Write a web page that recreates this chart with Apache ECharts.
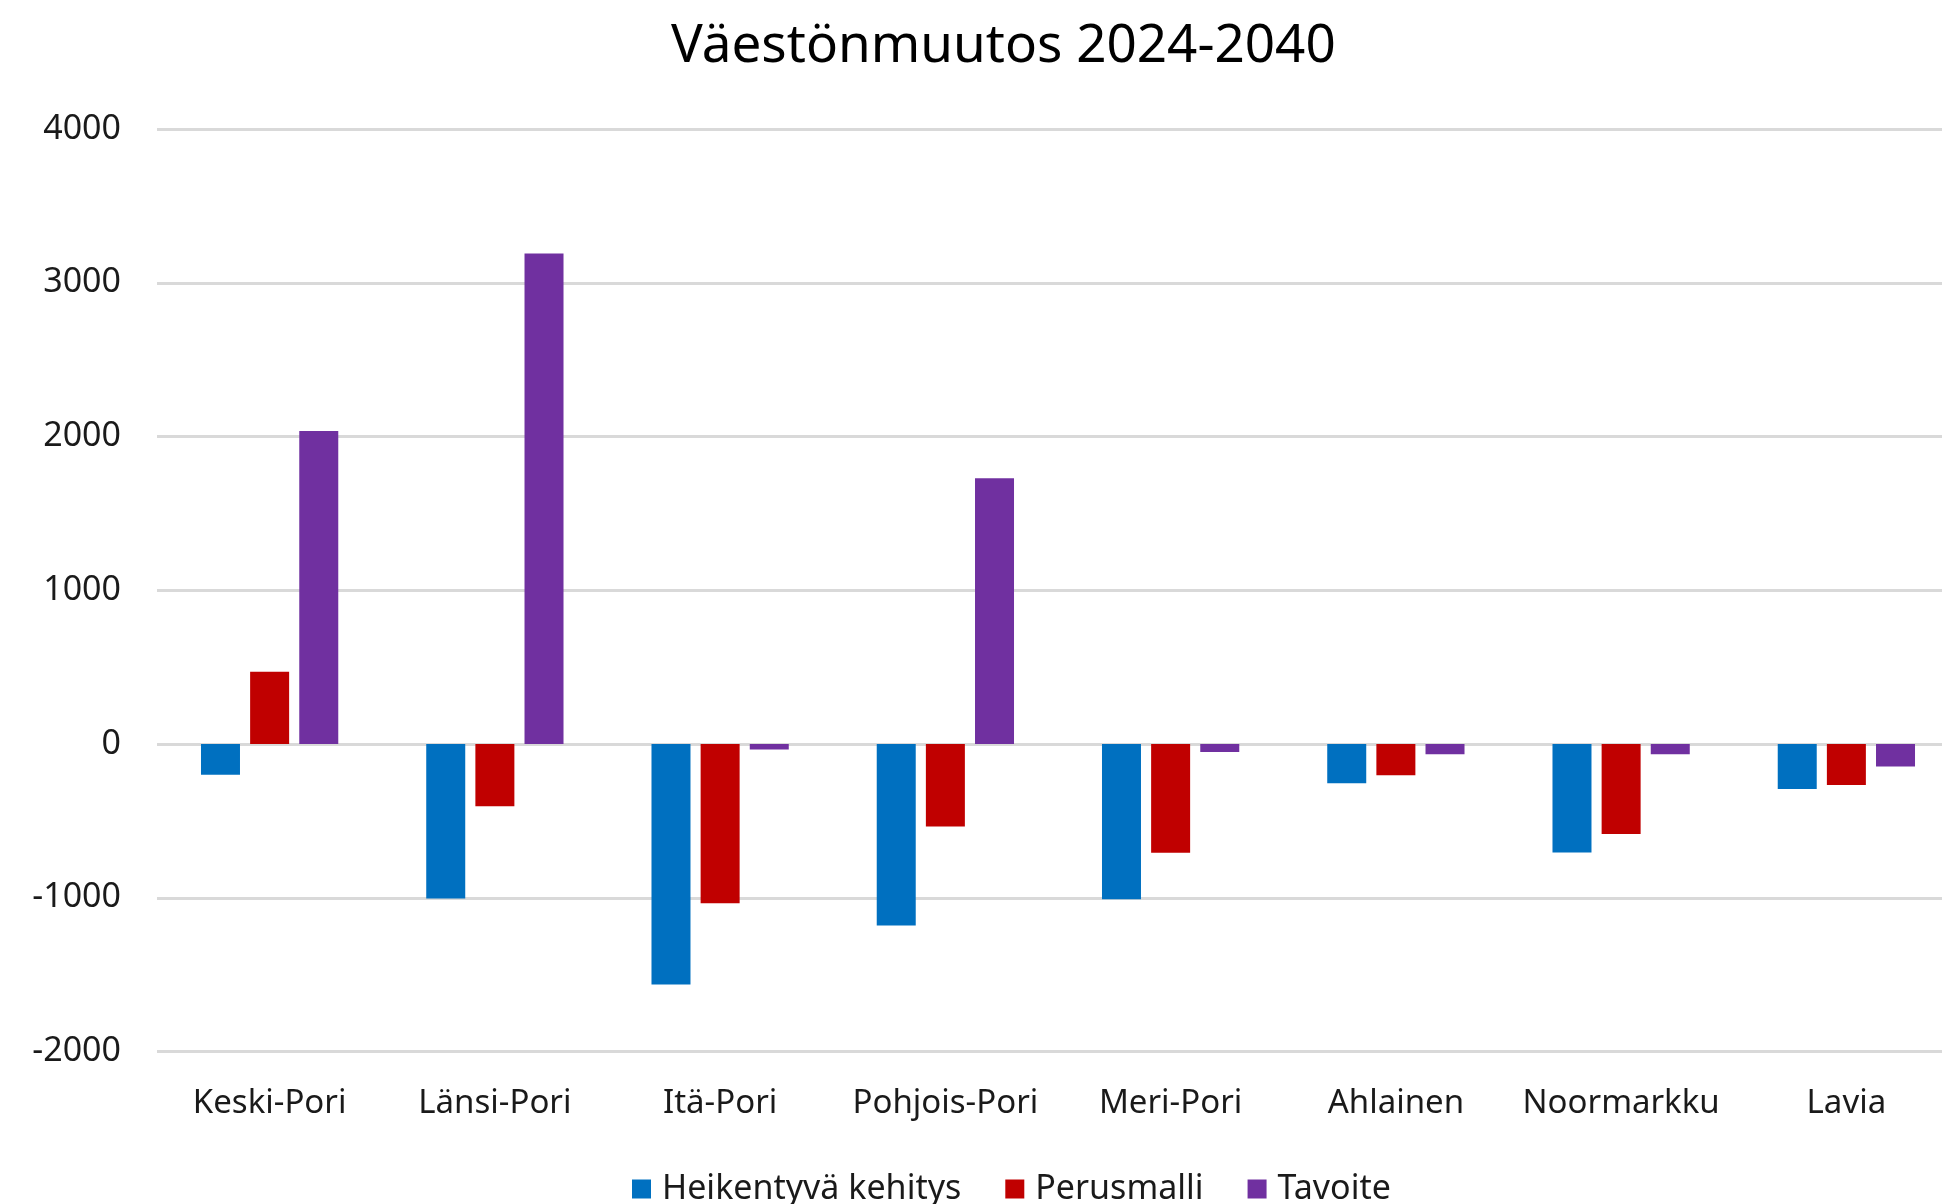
<!DOCTYPE html>
<html><head><meta charset="utf-8">
<script src="https://cdn.jsdelivr.net/npm/echarts@6/dist/echarts.min.js"></script>
<style>html,body{margin:0;padding:0;background:#fff}#c{width:1942px;height:1204px}</style>
</head><body><div id="c"></div>
<script>
const categories = ['Keski-Pori','Länsi-Pori','Itä-Pori','Pohjois-Pori','Meri-Pori','Ahlainen','Noormarkku','Lavia'];
const heikentyva = [-200, -1005, -1565, -1180, -1010, -255, -705, -293];
const perusmalli = [470, -405, -1035, -537, -707, -203, -586, -267];
const tavoite = [2035, 3190, -36, 1728, -52, -67, -67, -147];
const yTicks = {min: -2000, max: 4000, interval: 1000};

const font = 'Noto Sans';
const textColor = '#1a1a1a';
const chart = echarts.init(document.getElementById('c'), null, {renderer: 'canvas'});
chart.setOption({
  animation: false,
  backgroundColor: '#ffffff',
  title: {
    text: 'Väestönmuutos 2024-2040',
    left: 666, top: 15,
    textStyle: {fontFamily: font, fontSize: 53, fontWeight: 'normal', color: '#000000'}
  },
  legend: {
    left: 632, top: 1172, padding: 0,
    itemWidth: 19, itemHeight: 19, itemGap: 44,
    icon: 'rect',
    textStyle: {fontFamily: font, fontSize: 34, color: textColor, padding: [0,0,0,6]},
    data: ['Heikentyvä kehitys', 'Perusmalli', 'Tavoite']
  },
  grid: {left: 157, width: 1802, top: 129, bottom: 152.5, containLabel: false, outerBoundsMode: 'none'},
  xAxis: {
    type: 'category',
    data: categories,
    axisLine: {show: false},
    axisTick: {show: false},
    axisLabel: {fontFamily: font, fontSize: 33, color: textColor, margin: 36, interval: 0}
  },
  yAxis: {
    type: 'value',
    min: yTicks.min, max: yTicks.max, interval: yTicks.interval,
    axisLine: {show: false},
    axisTick: {show: false},
    axisLabel: {fontFamily: font, fontSize: 34, color: textColor, margin: 36, formatter: v => String(v)},
    splitLine: {lineStyle: {color: '#D9D9D9', width: 3}}
  },
  series: [
    {name: 'Heikentyvä kehitys', type: 'bar', data: heikentyva, barWidth: 39, barGap: '26%', itemStyle: {color: '#0070C0'}},
    {name: 'Perusmalli', type: 'bar', data: perusmalli, barWidth: 39, barGap: '26%', itemStyle: {color: '#C00000'}},
    {name: 'Tavoite', type: 'bar', data: tavoite, barWidth: 39, barGap: '26%', itemStyle: {color: '#7030A0'}}
  ]
});
</script></body></html>
